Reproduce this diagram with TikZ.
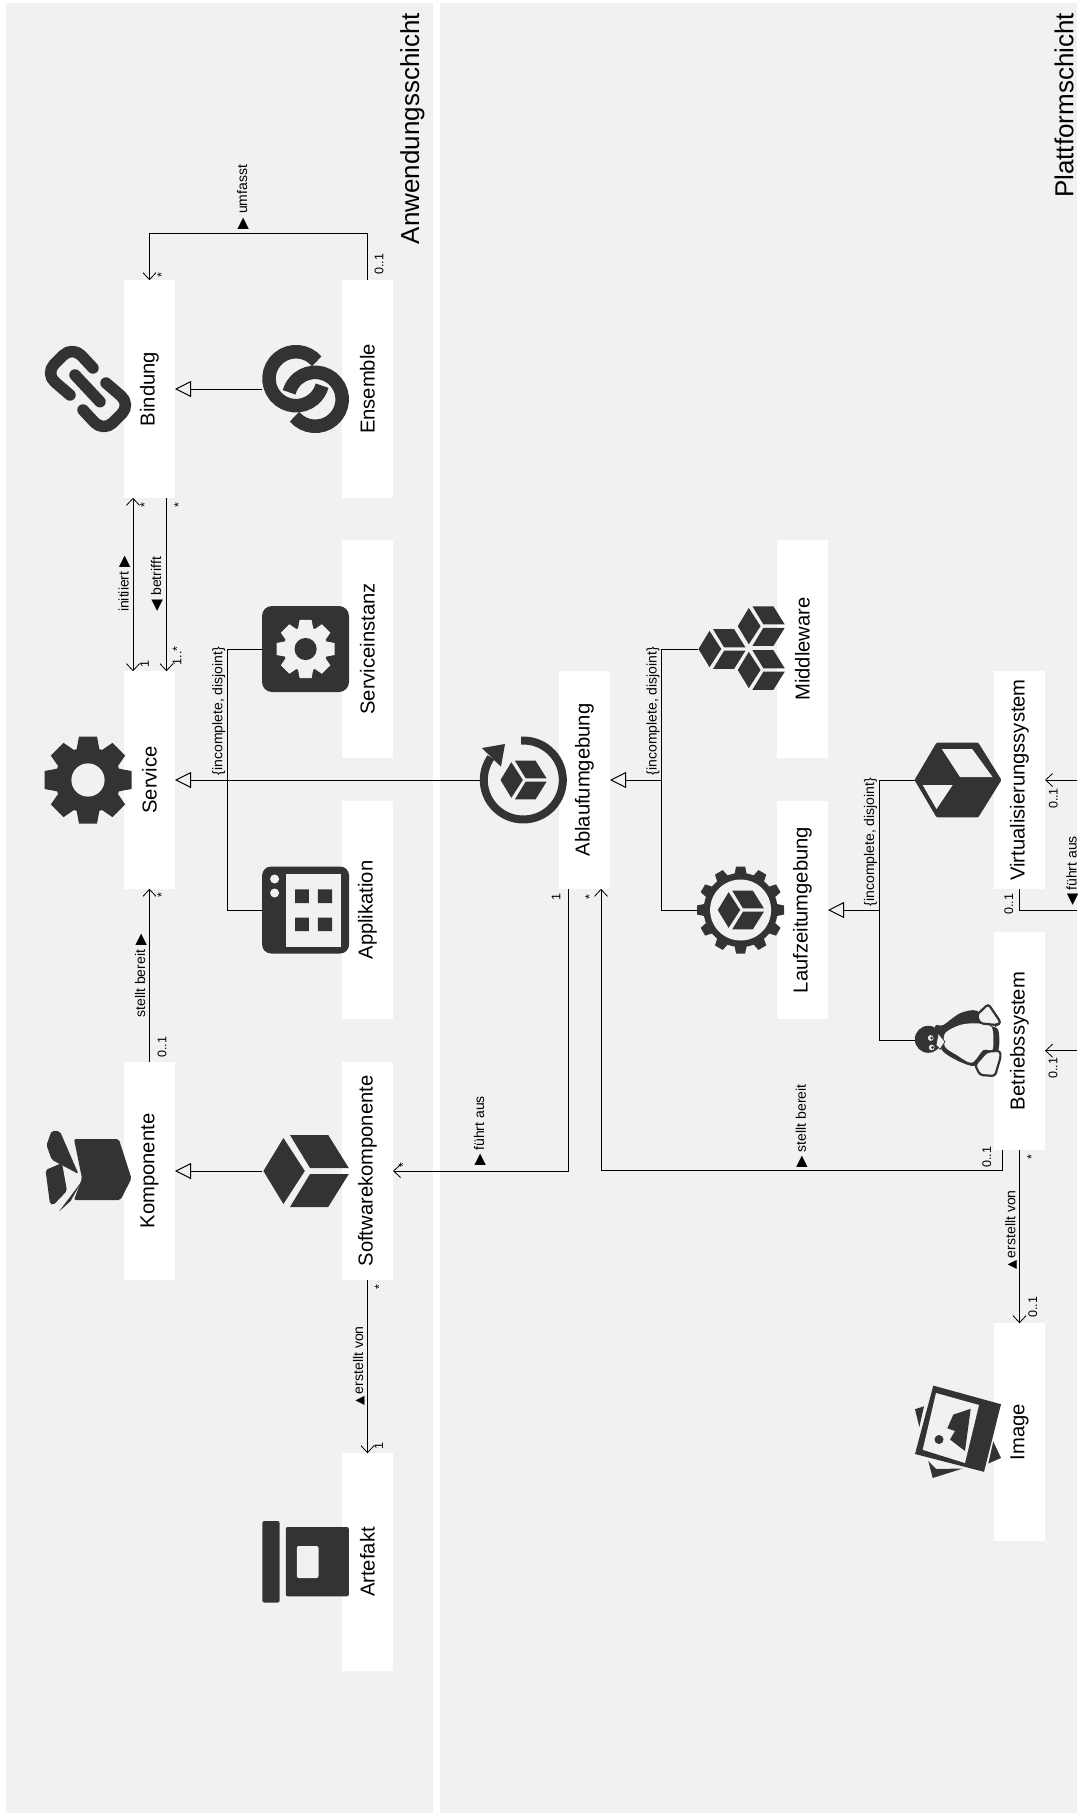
\documentclass[tikz,border=0pt]{standalone}
\usepackage{fontspec}
\setmainfont{Liberation Sans}
\newfontfamily\symfont{DejaVu Sans}
\usepackage{xcolor}
\definecolor{panelbg}{HTML}{F1F1F1}
\definecolor{icondark}{HTML}{333333}
\usetikzlibrary{arrows.meta}

\newcommand{\symb}[1]{{\symfont\fontsize{15}{16}\selectfont #1}}
\newcommand{\symbklein}[1]{{\symfont\fontsize{12}{14}\selectfont #1}}

\tikzset{
  pics/cubeicon/.style={code={
    \fill[#1] (-42.2,0) -- (-22.2,-33) -- (-0.8,0) -- (-22.2,33) -- cycle;
    \fill[#1] (-15.6,-36) -- (22.6,-36) -- (43.2,-3) -- (4.4,-3) -- cycle;
    \fill[#1] (4.4,3) -- (43.2,3) -- (22.6,36) -- (-15.6,36) -- cycle;
  }},
  pics/gearicon/.style 2 args={code={
    \fill[#1] (0,0) circle (33);
    \foreach \a in {0,45,...,315}
      \fill[#1,rotate=\a] (-11.5,-30) -- (-9,-43.5) -- (9,-43.5) -- (11.5,-30) -- cycle;
    \fill[#2] (0,0) circle (16.6);
  }},
  pics/linkicon/.style={code={
    \begin{scope}[icondark,line width=11.5pt,line cap=round,line join=round]
      \draw[rounded corners=13pt] (5,-21) -- (-15.5,-43) -- (-43,-15.5) -- (-18,6);
      \draw[rounded corners=13pt] (-5,21) -- (15.5,43) -- (43,15.5) -- (18,-6);
      \draw (-13,-14) -- (12,12.7);
    \end{scope}
  }},
  pics/ringsicon/.style={code={
    \draw[icondark,line width=13.5pt] (-9.6,-10.3) ++(-40:27) arc[start angle=-40,end angle=-345,radius=27];
    \draw[icondark,line width=13.5pt] (9.6,10.3) ++(140:27) arc[start angle=140,end angle=-165,radius=27];
  }},
  pics/komponenteicon/.style={code={
    \fill[icondark,rounded corners=2pt] (-14,-32) -- (30.8,-32) -- (43.5,7.4) -- (32.5,29) -- (-14,29) -- (-6,7.4) -- cycle;
    \fill[icondark,rounded corners=2pt] (-36.3,-40.3) -- (-28,-39.6) -- (-9.5,3) -- (-36.3,-11.3) -- (-41.5,-26) -- cycle;
    \fill[icondark,rounded corners=2pt] (-42.5,-1) -- (-26,-8) -- (-21,19.8) -- (-34.6,34) -- (-38,33) -- cycle;
    \fill[icondark] (-29,40.5) -- (-6,10) -- (-17.4,30) -- cycle;
  }},
  pics/applicon/.style={code={
    \fill[icondark,rounded corners=9pt] (-43.5,-43.5) rectangle (43.5,43.5);
    \fill[panelbg] (-20,-36) rectangle (35.7,37);
    \fill[panelbg] (-31,-31) circle (4.5) (-31,-17) circle (4.5);
    \fill[icondark] (-10.5,-20.6) rectangle (3.3,-7) (12.3,-20.6) rectangle (26.4,-7)
                    (-10.5,7.6) rectangle (3.3,21) (12.3,7.6) rectangle (26.4,21);
  }},
  pics/artefakticon/.style={code={
    \fill[icondark,rounded corners=2pt] (-43.2,-41) rectangle (-26,40.6);
    \fill[icondark,rounded corners=2pt] (-19.8,-35) rectangle (43.2,34.4);
    \fill[panelbg,rounded corners=2pt] (-8.8,-16) rectangle (12.9,16);
  }},
  pics/ablaufen/.style={code={
    \draw[icondark,line width=8pt] (-93:39.5) arc[start angle=-93,end angle=215,radius=39.5];
    \fill[icondark] (-41.4,-32) -- (-18.3,-36) -- (-22.3,-13.3) -- cycle;
    \pic[scale=.54] at (0,0) {cubeicon=icondark};
  }},
  pics/laufzeiten/.style={code={
    \fill[icondark] (0,0) circle (37);
    \foreach \a in {0,30,...,330}
      \fill[icondark,rotate=\a] (-6.5,-34) -- (-4.5,-43.5) -- (4.5,-43.5) -- (6.5,-34) -- cycle;
    \fill[panelbg] (0,0) circle (30.5);
    \pic[scale=.54] at (0,0) {cubeicon=icondark};
  }},
  pics/hexicon/.style={code={
    \fill[icondark,rounded corners=1pt] (-43.5,0) -- (-21.5,-37.3) -- (20.3,-37.3) -- (43.5,0) -- (20.3,37.3) -- (-21.5,37.3) -- cycle;
    \fill[panelbg] (-16.2,-31) -- (14.2,-31) -- (34.5,-3) -- (2,-3) -- cycle;
    \fill[panelbg] (-35.3,5) -- (-5.3,5) -- (-21.5,29) -- cycle;
  }},
  pics/pinguin/.style={code={
    \fill[icondark] plot[smooth cycle,tension=.5] coordinates {(-23,-13.3) (-14.7,-15) (2,-26.7) (18.7,-29.3) (32,-15) (40.3,-10) (40.3,10) (28.7,11.7) (15.3,26) (-14.7,11.7)};
    \fill[icondark] (-29.7,-.7) circle (13.5);
    \fill[panelbg] plot[smooth cycle,tension=.5] coordinates {(-13,-6.7) (2,-15) (18.7,-16.7) (33.7,-12.7) (34.7,9.3) (25.3,10) (13.7,22.7) (-1.3,15) (-13,6.7)};
    \draw[icondark,fill=panelbg,line width=2.2pt,rounded corners=3pt] (18.7,-25) -- (30.3,-36) -- (43,-17.3) -- (38.7,-15) -- (22,-16.7) -- cycle;
    \draw[icondark,fill=panelbg,line width=2.2pt,rounded corners=3pt] (17,25) -- (28.7,11.7) -- (42,10.7) -- (42.7,16.7) -- (37,36) -- (22,35) -- cycle;
    \draw[icondark,fill=panelbg,line width=.7pt] (-19.7,-6.7) -- (-13,1.7) -- (-18,9.3) -- (-22,5) -- cycle;
    \draw[icondark,fill=panelbg,line width=.8pt] (-27.3,-2) circle (3.4) (-26.3,7.5) circle (3.4);
    \fill[icondark] (-26.3,-2) circle (1.5) (-25.3,7.5) circle (1.5);
  }},
  pics/imageicon/.style={code={
    \fill[icondark] (-43,-22.8) -- (-34,-25.7) -- (-38.7,-5) -- cycle;
    \fill[icondark] (35.3,9.5) -- (43,26) -- (30.3,31.5) -- cycle;
    \fill[icondark] (-29.7,29) -- (-25.3,46) -- (4.7,36.5) -- (-22,37) -- cycle;
    \fill[icondark] (-24.7,-46.4) -- (43,-27.8) -- (26,39.8) -- (-43,22) -- cycle;
    \fill[panelbg] (-22,-39) -- (21,-27) -- (7,31) -- (-35.3,17.8) -- cycle;
    \fill[icondark] (-4.7,-17.4) -- (12.7,-23.2) -- (7,19) -- (-8,7.5) -- (-3,-1) -- (-10.7,-3.7) -- cycle;
    \fill[icondark] (-19,7.5) circle (4.5);
  }}
}

\begin{document}
\begin{tikzpicture}[x=1pt,y=-1pt,
    panel/.style={fill=panelbg},
    box/.style={fill=white, rotate=90, minimum width=217.5pt, minimum height=51pt,
                inner sep=0pt, outer sep=0pt, font=\fontsize{20.2}{24}\selectfont},
    iconbox/.style={minimum size=87pt, inner sep=0pt, outer sep=0pt},
    layer/.style={rotate=90, inner sep=0pt, font=\fontsize{26}{30}\selectfont},
    lab/.style={rotate=90, inner sep=0pt, font=\fontsize{14}{16}\selectfont},
    multi/.style={rotate=90, inner sep=0pt, font=\fontsize{12.5}{14}\selectfont},
    conn/.style={line width=1pt},
    assoc/.style={conn, -{Straight Barb[length=7pt,width=13pt,line width=.8pt]}},
    assocboth/.style={conn, {Straight Barb[length=7pt,width=13pt,line width=.8pt]}-{Straight Barb[length=7pt,width=13pt,line width=.8pt]}},
    gen/.style={conn, -{Triangle[open,length=16pt,width=16pt]}}]
  \useasboundingbox (0,0) rectangle (1077,1813);
  \fill[panel] (6,3) rectangle (433,1813);
  \fill[panel] (440,3) rectangle (1077,1813);

  \node[layer] (anwendung)  at (412.5,128.5) {Anwendungsschicht};
  \node[layer] (plattform)  at (1064,105.5)  {Plattformschicht};

  \node[box] (bindung)    at (149.5,389)  {Bindung};
  \node[box] (ensemble)   at (367.5,389)  {Ensemble};
  \node[box] (sinstanz)   at (367.5,649)  {Serviceinstanz};
  \node[box] (service)    at (149.5,780)  {Service};
  \node[box] (appl)       at (367.5,910)  {Applikation};
  \node[box] (komponente) at (149.5,1171) {Komponente};
  \node[box] (softkomp)   at (367.5,1171) {Softwarekomponente};
  \node[box] (artefakt)   at (367.5,1562) {Artefakt};
  \node[box] (ablauf)     at (584.5,780)  {Ablaufumgebung};
  \node[box] (middleware) at (802.5,649)  {Middleware};
  \node[box] (laufzeit)   at (802.5,910)  {Laufzeitumgebung};
  \node[box] (virt)       at (1019.5,780) {Virtualisierungssystem};
  \node[box] (betrieb)    at (1019.5,1041) {Betriebssystem};
  \node[box] (image)      at (1019.5,1432) {Image};

  \node[iconbox] (bindungicon)  at (88,389)    {};
  \node[iconbox] (ensembleicon) at (305.6,389) {};
  \node[iconbox] (sinstanzicon) at (305.6,649) {};
  \node[iconbox] (serviceicon)  at (88,780)    {};
  \node[iconbox] (applicon)     at (305.6,910) {};
  \node[iconbox] (kompicon)     at (88,1171)   {};
  \node[iconbox] (softicon)     at (305.6,1171) {};
  \node[iconbox] (artefakticon) at (305.6,1562) {};
  \node[iconbox] (ablaufricon)  at (523.3,780) {};
  \node[iconbox] (middleicon)   at (741,649)   {};
  \node[iconbox] (laufzeiticon) at (740.6,910) {};
  \node[iconbox] (virticon)     at (958,780)   {};
  \node[iconbox] (betriebicon)  at (958,1040)  {};
  \node[iconbox] (imageicon)    at (958,1432)  {};

  \pic at (bindungicon) {linkicon};
  \pic at (ensembleicon) {ringsicon};
  \fill[icondark,rounded corners=10pt] (262,606) rectangle (349,692);
  \pic[scale=.667] at (sinstanzicon) {gearicon={panelbg}{icondark}};
  \pic at (serviceicon) {gearicon={icondark}{panelbg}};
  \pic at (applicon) {applicon};
  \pic at (kompicon) {komponenteicon};
  \pic at (softicon) {cubeicon=icondark};
  \pic at (artefakticon) {artefakticon};
  \pic at (ablaufricon) {ablaufen};
  \pic[scale=.55] at ([xshift=-19.3pt]middleicon.center) {cubeicon=icondark};
  \pic[scale=.55] at ([xshift=20pt,yshift=22.9pt]middleicon.center) {cubeicon=icondark};
  \pic[scale=.55] at ([xshift=20pt,yshift=-21pt]middleicon.center) {cubeicon=icondark};
  \pic at (laufzeiticon) {laufzeiten};
  \pic at (virticon) {hexicon};
  \pic at (betriebicon) {pinguin};
  \pic at (imageicon) {imageicon};

  \coordinate (servicejoin) at (227,780);
  \coordinate (ablaufjoin)  at (661.4,780);
  \coordinate (laufzeitjoin) at (879,910);
  \coordinate (virtend)     at (1077,780);
  \coordinate (betriebend)  at (1077,1050.7);
  \coordinate (virtaus)     at (1077,910);

  \draw[gen] (ensembleicon.west) -- (bindung.south);
  \draw[gen] (softicon.west) -- (komponente.south);
  \draw[gen] (ablaufricon.west) -- (service.south);
  \draw[conn] (sinstanzicon.west) -| (servicejoin);
  \draw[conn] (applicon.west) -| (servicejoin);
  \draw[gen] (ablaufjoin) -- (ablauf.south);
  \draw[conn] (middleicon.west) -| (ablaufjoin);
  \draw[conn] (laufzeiticon.west) -| (ablaufjoin);
  \draw[gen] (laufzeitjoin) -- (laufzeit.south);
  \draw[conn] (virticon.west) -| (laufzeitjoin);
  \draw[conn] (betriebicon.west) -| (laufzeitjoin);

  \draw[assoc] (ensemble.east) -- ++(0,-46.5) -| (bindung.east);
  \draw[assocboth] ([xshift=-16.5pt]bindung.west) -- ([xshift=-16.5pt]service.east);
  \draw[assoc] ([xshift=17pt]bindung.west) -- ([xshift=17pt]service.east);
  \draw[assoc] (komponente.east) -- (service.west);
  \draw[assoc] (softkomp.west) -- (artefakt.east);
  \draw[assoc] ([xshift=-16.5pt]ablauf.west) |- (softkomp.south);
  \draw[assoc] ([xshift=-17pt]betrieb.west) -- ++(0,21) -| ([xshift=16.5pt]ablauf.west);
  \draw[assoc] (betrieb.west) -- (image.east);
  \draw[assoc] (virtend) -- (virt.south);
  \draw[assoc] (betriebend) -- (betriebend -| betrieb.south);
  \draw[conn] (virt.west) |- (virtaus);

  \node[lab] (umfasst)    at (243,197)   {\symb{▶} umfasst};
  \node[lab] (initiiert)  at (124.5,584) {initiiert \symb{▶}};
  \node[lab] (betrifft)   at (157,584)   {\symb{◀} betrifft};
  \node[lab] (bereit)     at (141,976)   {stellt bereit \symb{▶}};
  \node[lab] (erstellt)   at (358.8,1366) {\symbklein{▲}\,erstellt von};
  \node[lab] (fuehrt)     at (480,1131)  {\symb{▶} führt aus};
  \node[lab] (bereitzwei) at (801.7,1126) {\symb{▶} stellt bereit};
  \node[lab] (erstelltzwei) at (1011,1230) {\symbklein{▲}\,erstellt von};
  \node[lab] (fuehrtzwei) at (1072.5,871) {\symb{◀} führt aus};

  \node[lab] (constra) at (218.7,711) {\{incomplete, disjoint\}};
  \node[lab] (constrb) at (653,711)   {\{incomplete, disjoint\}};
  \node[lab] (constrc) at (870.6,842) {\{incomplete, disjoint\}};

  \node[multi] (ma) at (379,264)    {0..1};
  \node[multi] (mb) at (161.5,275)  {*};
  \node[multi] (mc) at (144.5,505)  {*};
  \node[multi] (md) at (178.5,505)  {*};
  \node[multi] (me) at (144.6,664)  {1};
  \node[multi] (mf) at (177,656)    {1..*};
  \node[multi] (mg) at (161.5,895)  {*};
  \node[multi] (mh) at (162,1047)   {0..1};
  \node[multi] (mi) at (379,1287)   {*};
  \node[multi] (mj) at (378.8,1446) {1};
  \node[multi] (mk) at (403,1165)   {*};
  \node[multi] (ml) at (556,897)    {1};
  \node[multi] (mm) at (589.5,897)  {*};
  \node[multi] (mn) at (986.7,1157) {0..1};
  \node[multi] (mo) at (1031.5,1157) {*};
  \node[multi] (mp) at (1032.7,1307) {0..1};
  \node[multi] (mq) at (1053,1068)  {0..1};
  \node[multi] (mr) at (1053.4,798.5) {0..1};
  \node[multi] (ms) at (1008.8,904) {0..1};
\end{tikzpicture}
\end{document}
